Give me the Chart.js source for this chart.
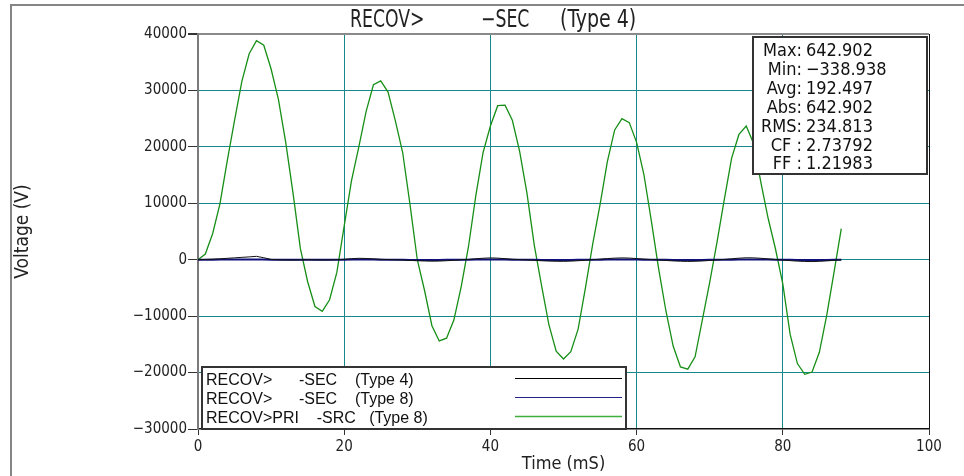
<!doctype html>
<html>
	<head>
		<title>RECOV -SEC (Type 4)</title>
		<script src="https://cdn.jsdelivr.net/npm/chart.js@4.4.0/dist/chart.umd.min.js"></script>
		<style>
			html, body {
				margin: 0;
				padding: 0;
				background: #fff;
			}
			#wrapper {
				width: 964px;
				height: 476px;
			}
		</style>
	</head>
	<body>
		<div id="wrapper"><canvas id="canvas_0" width="964" height="476"></canvas></div>

		<script>
			// time axis (ms) and the three traces
			var timeMs = [
				0, 1, 2, 3, 4, 5, 6, 7, 8, 9, 10, 11, 12, 13, 14, 15, 16, 17, 18, 19,
				20, 21, 22, 23, 24, 25, 26, 27, 28, 29, 30, 31, 32, 33, 34, 35, 36, 37, 38, 39,
				40, 41, 42, 43, 44, 45, 46, 47, 48, 49, 50, 51, 52, 53, 54, 55, 56, 57, 58, 59,
				60, 61, 62, 63, 64, 65, 66, 67, 68, 69, 70, 71, 72, 73, 74, 75, 76, 77, 78, 79,
				80, 81, 82, 83, 84, 85, 86, 87, 88
			];
			var secType4 = [
				0, 50, 100, 150, 250, 330, 420, 500, 600, 350, 50, -20, -50, -60, -40, 0, -30, -60, -40, 0,
				80, 180, 250, 220, 150, 80, 20, -20, -60, -120, -180, -230, -260, -240, -180, -100, -20, 60, 160, 260,
				320, 280, 180, 90, 20, -40, -110, -180, -240, -280, -290, -250, -180, -90, 0, 100, 200, 280, 320, 290,
				200, 110, 30, -50, -130, -210, -270, -300, -280, -220, -130, -40, 60, 170, 270, 340, 330, 250, 140, 40,
				-60, -160, -250, -310, -330, -290, -210, -110, -20
			];
			var secType8 = [
				0, 0, 10, 20, 20, 30, 30, 40, 40, 20, 0, -10, -20, -20, -10, 0, -10, -20, -10, 0,
				10, 20, 30, 30, 20, 10, 0, -10, -20, -30, -30, -40, -40, -30, -20, -10, 0, 10, 20, 30,
				40, 30, 20, 10, 0, -10, -20, -30, -40, -40, -40, -30, -20, -10, 0, 10, 20, 30, 40, 30,
				20, 10, 0, -10, -20, -30, -40, -40, -40, -30, -20, -10, 0, 10, 30, 40, 40, 30, 20, 0,
				-10, -20, -30, -40, -40, -40, -30, -20, -10
			];
			var priSrcType8 = [
				0, 1000, 4600, 9900, 17500, 24700, 31600, 36500, 38800, 38000, 33800, 28400, 20800, 11800, 2000, -3900, -8300, -9150, -7100, -2200,
				6000, 14000, 20000, 26300, 31000, 31700, 29700, 24600, 19000, 9800, 0, -5500, -11700, -14400, -13900, -10700, -4800, 2300, 11300, 19000,
				23700, 27300, 27400, 24700, 19200, 11800, 2600, -4600, -11500, -16200, -17600, -16300, -12300, -5000, 2800, 9750, 17400, 23000, 25000, 24300,
				20800, 15100, 7000, -1500, -9000, -15300, -19000, -19400, -17200, -10600, -4000, 3100, 10700, 18000, 22200, 23700, 20600, 13700, 7300, 1900,
				-4300, -13200, -18400, -20300, -19900, -16400, -9900, -2300, 5500
			];

			var seriesLabels = [
				'RECOV>      -SEC    (Type 4)',
				'RECOV>      -SEC    (Type 8)',
				'RECOV>PRI    -SRC   (Type 8)'
			];
			var seriesColors = ['#111111', '#10107a', '#178f17'];
			var legendColors = ['#000000', '#22228a', '#3fae3f'];

			var titleParts = ['RECOV>', '\u2212SEC', '(Type 4)'];
			var statNames = ['Max:', 'Min:', 'Avg:', 'Abs:', 'RMS:', 'CF :', 'FF :'];
			var statValues = ['642.902', '\u2212338.938', '192.497', '642.902', '234.813', '2.73792', '1.21983'];

			var narrow = '"DejaVu Sans Condensed", "DejaVu Sans", sans-serif';
			var gridTeal = '#16888a';

			function toPoints(values) {
				return values.map(function(v, i) {
					return { x: timeMs[i], y: v };
				});
			}

			function plainTick(v) {
				return v < 0 ? '\u2212' + Math.abs(v) : String(v);
			}

			var decor = {
				id: 'decor',
				beforeDraw: function(chart) {
					var ctx = chart.ctx;
					ctx.save();
					ctx.fillStyle = '#fff';
					ctx.fillRect(0, 0, chart.width, chart.height);

					// outer frame
					ctx.strokeStyle = '#858585';
					ctx.lineWidth = 2;
					ctx.beginPath();
					ctx.moveTo(11, 476);
					ctx.lineTo(11, 5);
					ctx.lineTo(964, 5);
					ctx.stroke();

					// title
					ctx.fillStyle = '#222';
					ctx.font = '24px ' + narrow;
					ctx.textBaseline = 'alphabetic';
					var xs = [350, 481, 560];
					var sx = [0.8, 0.8, 0.88];
					for (var i = 0; i < titleParts.length; i++) {
						ctx.save();
						ctx.translate(xs[i], 27);
						ctx.scale(sx[i], 1);
						ctx.fillText(titleParts[i], 0, 0);
						ctx.restore();
					}
					ctx.restore();
				},
				afterDraw: function(chart) {
					var ctx = chart.ctx;
					var i;
					ctx.save();

					// legend box
					ctx.fillStyle = '#fff';
					ctx.fillRect(202, 367, 424, 62);
					ctx.strokeStyle = '#333';
					ctx.lineWidth = 2;
					ctx.strokeRect(202, 367, 424, 62);
					ctx.font = '16px "Liberation Sans", Arial, sans-serif';
					ctx.textBaseline = 'alphabetic';
					ctx.textAlign = 'left';
					for (i = 0; i < seriesLabels.length; i++) {
						ctx.fillStyle = '#111';
						ctx.fillText(seriesLabels[i], 206, 385 + i * 19);
						ctx.strokeStyle = legendColors[i];
						ctx.lineWidth = i === 2 ? 1.6 : 1;
						ctx.beginPath();
						ctx.moveTo(515, 378.5 + i * 19);
						ctx.lineTo(622, 378.5 + i * 19);
						ctx.stroke();
					}

					// statistics box
					ctx.fillStyle = '#fff';
					ctx.fillRect(753, 37, 174, 137);
					ctx.strokeStyle = '#333';
					ctx.lineWidth = 2;
					ctx.strokeRect(753, 37, 174, 137);
					ctx.font = '18px ' + narrow;
					ctx.fillStyle = '#111';
					for (i = 0; i < statNames.length; i++) {
						var y = 56 + i * 18.9;
						ctx.textAlign = 'right';
						ctx.fillText(statNames[i], 802, y);
						ctx.textAlign = 'left';
						ctx.fillText(statValues[i], 806, y);
					}
					ctx.restore();
				}
			};

			window.onload = function() {
				var canvas = document.getElementById('canvas_0');
				var datasets = [secType4, secType8, priSrcType8].map(function(values, i) {
					return {
						label: seriesLabels[i],
						data: toPoints(values),
						borderColor: seriesColors[i],
						borderWidth: [1, 2, 1.3][i],
						pointRadius: 0,
						tension: 0,
						fill: false
					};
				});

				new Chart(canvas.getContext('2d'), {
					type: 'line',
					data: { datasets: datasets },
					plugins: [decor],
					options: {
						responsive: false,
						animation: false,
						events: [],
						layout: { padding: { left: 0, top: 34, right: 35, bottom: 0 } },
						plugins: {
							legend: { display: false },
							title: { display: false },
							tooltip: { enabled: false }
						},
						scales: {
							x: {
								type: 'linear',
								min: 0,
								max: 100,
								afterFit: function(scale) { scale.height = 47; },
								border: { color: '#111', width: 1.5 },
								grid: {
									tickLength: 6,
									tickColor: '#333',
									color: function(c) {
										if (c.tick.value === 0) return 'rgba(0,0,0,0)';
										if (c.tick.value === 100) return '#111';
										return gridTeal;
									}
								},
								ticks: {
									stepSize: 20,
									maxRotation: 0,
									padding: 3,
									color: '#222',
									font: { family: narrow, size: 15 },
									callback: plainTick
								},
								title: {
									display: true,
									text: 'Time (mS)',
									color: '#222',
									font: { family: narrow, size: 18 },
									padding: { top: 0, bottom: 1 }
								}
							},
							y: {
								min: -30000,
								max: 40000,
								afterFit: function(scale) { scale.width = 198; },
								border: { color: '#7a7a7a', width: 2 },
								grid: {
									tickLength: 10,
									tickColor: '#333',
									lineWidth: function(c) { return c.tick.value === 40000 ? 2 : 1; },
									color: function(c) {
										if (c.tick.value === 40000) return '#8a8a8a';
										if (c.tick.value === -30000) return 'rgba(0,0,0,0)';
										return gridTeal;
									}
								},
								ticks: {
									stepSize: 10000,
									padding: 1,
									color: '#222',
									font: { family: narrow, size: 15 },
									callback: plainTick
								},
								title: {
									display: true,
									text: 'Voltage (V)',
									color: '#222',
									font: { family: narrow, size: 19 },
									padding: { top: 12, bottom: 0 }
								}
							}
						}
					}
				});
			};
		</script>
	</body>
</html>
